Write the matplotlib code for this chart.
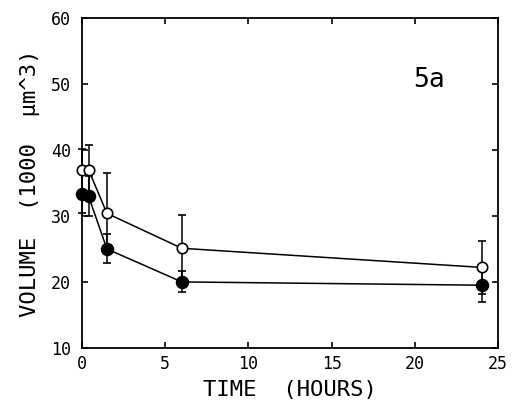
import matplotlib
matplotlib.use('Agg')
from matplotlib import pyplot as plt

# time points (hours)
times = [0, 0.4, 1.5, 6, 24]

# open circles
openVol = [37.0, 37.0, 30.4, 25.1, 22.2]
openErr = [3.2, 3.8, 6.1, 5.0, 4.0]

# filled circles
filledVol = [33.4, 33.0, 25.0, 20.0, 19.5]
filledErr = [3.0, 3.0, 2.2, 1.6, 2.6]

xTicks = [0, 5, 10, 15, 20, 25]
yTicks = [10, 20, 30, 40, 50, 60]


def plot():
    plt.rcParams['font.family'] = ['DejaVu Sans Mono']
    fig = plt.figure(figsize=(5.12, 4.04), dpi=100)
    ax = fig.add_axes([0.160, 0.139, 0.813, 0.816])

    for vol, err, fc, ms, z in [(filledVol, filledErr, 'black', 8.5, 2),
                                (openVol, openErr, 'white', 7.5, 3)]:
        lines = ax.errorbar(times, vol, yerr=err, color='black', lw=1.1,
                            marker='o', ms=ms, mfc=fc, mec='black', mew=1.2,
                            capsize=3, elinewidth=1.1, capthick=1.1, zorder=z)
        for art in lines.lines[0:1] + lines.lines[1] + lines.lines[2]:
            art.set_clip_on(False)

    ax.set_xlim(0, 25)
    ax.set_ylim(10, 60)
    ax.set_xticks(xTicks)
    ax.set_yticks(yTicks)
    ax.tick_params(direction='in', top=True, right=True, length=4,
                   width=1.2, labelsize=12)
    ax.tick_params(axis='y', pad=8)
    ax.tick_params(axis='x', pad=5)
    for s in ax.spines.values():
        s.set_linewidth(1.3)

    ax.set_xlabel('TIME  (HOURS)', fontsize=16, labelpad=5)
    ax.set_ylabel('VOLUME  (1000  \u00b5m^3)', fontsize=16, labelpad=8)
    ax.text(0.795, 0.79, '5a', transform=ax.transAxes, fontsize=19,
            va='baseline')

    fig.savefig('out.png', dpi=100)


if __name__ == '__main__':
    plot()
